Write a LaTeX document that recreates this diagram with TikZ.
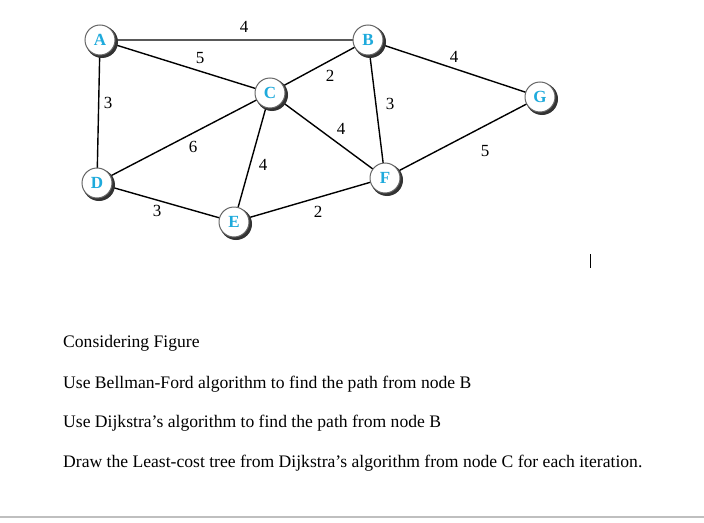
\documentclass[tikz,border=0pt]{standalone}
\usepackage{fontspec}
\setmainfont{Liberation Serif}
\definecolor{lbl}{RGB}{30,170,220}
\begin{document}
\begin{tikzpicture}[x=1pt,y=-1pt,
  vtx/.style={circle,draw=black!60,line width=1pt,fill=white,minimum size=30pt,inner sep=0pt,text=lbl,font=\fontsize{17}{18}\selectfont\bfseries},
  shadowc/.style={circle,fill=black!80,minimum size=32pt,inner sep=0pt},
  edge/.style={line width=1.4pt},
  wt/.style={font=\fontsize{17}{18}\selectfont,inner sep=1pt},
  txt/.style={anchor=west,font=\fontsize{17.6}{19}\selectfont,inner sep=0pt}]
\useasboundingbox (0,0) rectangle (704,522);
\fill[white] (0,0) rectangle (704,522);
\foreach \n/\x/\y in {A/100/40,B/368/40,C/270/93,G/540/97,D/97/183,F/385/178,E/234/222}{
  \coordinate (\n0) at (\x,\y);
}
\draw[edge] (A0)--(B0) (A0)--(C0) (A0)--(D0) (D0)--(C0) (D0)--(E0) (E0)--(C0) (E0)--(F0) (C0)--(B0) (C0)--(F0) (B0)--(F0) (B0)--(G0) (F0)--(G0);
\foreach \n/\x/\y in {A/100/40,B/368/40,C/270/93,G/540/97,D/97/183,F/385/178,E/234/222}{
  \node[shadowc] (s\n) at (\x+2,\y+2) {};
  \node[vtx] (\n) at (\x,\y) {\n};
}
\node[wt] (w1) at (244,27) {4};
\node[wt] (w2) at (200,58) {5};
\node[wt] (w3) at (108,103) {3};
\node[wt] (w4) at (193,147) {6};
\node[wt] (w5) at (157,211) {3};
\node[wt] (w6) at (263,165) {4};
\node[wt] (w7) at (318,212) {2};
\node[wt] (w8) at (330,76) {2};
\node[wt] (w9) at (341,129) {4};
\node[wt] (w10) at (390,104) {3};
\node[wt] (w11) at (454,57) {4};
\node[wt] (w12) at (485,151) {5};
\draw[line width=1pt] (590,254) -- (590,268);
\node[txt] (t1) at (63,343) {Considering Figure};
\node[txt] (t2) at (63,384) {Use Bellman-Ford algorithm to find the path from node B};
\node[txt] (t3) at (63,423) {Use Dijkstra’s algorithm to find the path from node B};
\node[txt] (t4) at (63,463) {Draw the Least-cost tree from Dijkstra’s algorithm from node C for each iteration.};
\draw[black!25,line width=1.5pt] (0,517) -- (704,517);
\end{tikzpicture}
\end{document}
